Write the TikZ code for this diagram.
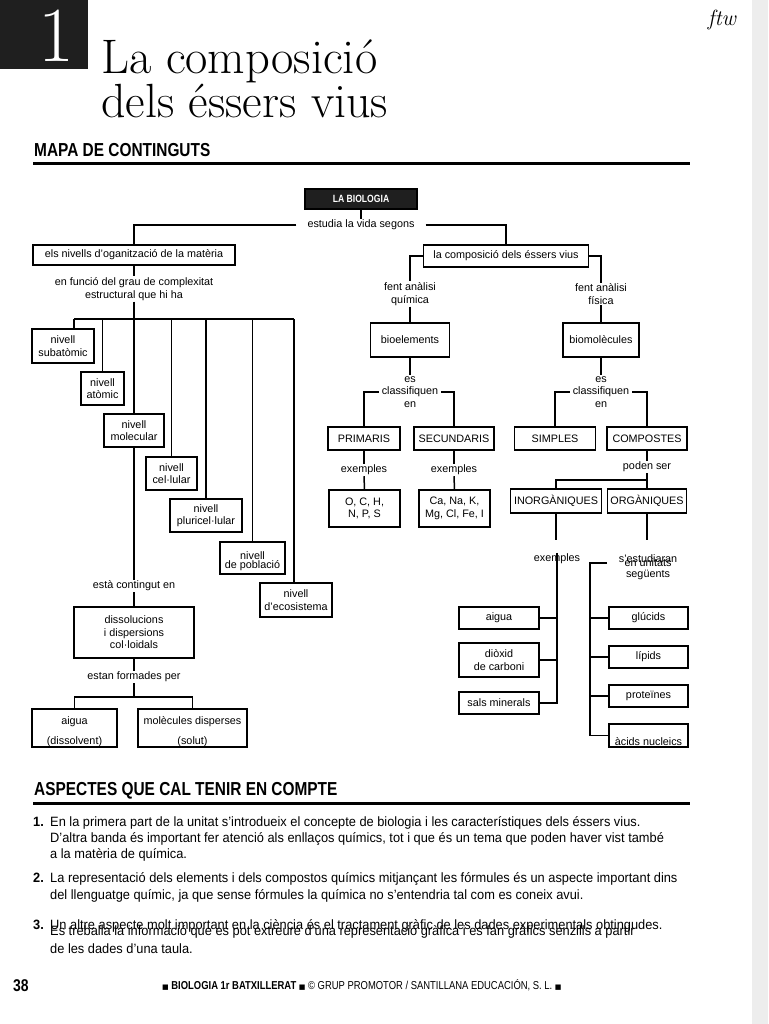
\documentclass[tikz,border=0pt]{standalone}
\usepackage{fontspec}
\newfontfamily\mapsans{Liberation Sans}
\newfontfamily\condsans[FakeStretch=0.82]{Liberation Sans}
\newfontfamily\bodysans[FakeStretch=0.95]{Liberation Sans}
\newfontfamily\symsans{DejaVu Sans}
\newcommand{\mapfont}{\mapsans\fontsize{10.8}{12.5}\selectfont}
\newcommand{\headfont}{\condsans\bfseries\fontsize{18.8}{20}\selectfont}
\newcommand{\bodyfont}{\bodysans\fontsize{13.5}{16}\selectfont}
\newcommand{\sqmark}{{\symsans\fontsize{7}{7}\selectfont ■}}

\tikzset{
  box/.style={draw, line width=1.5pt, fill=white, font=\mapfont, align=center, inner sep=1pt},
  lbl/.style={font=\mapfont, align=center, inner sep=1pt},
  link/.style={line width=1.5pt},
  para/.style={font=\bodyfont, anchor=west, inner sep=0pt, text height=9pt, text depth=3pt},
  num/.style={para, font=\bodyfont\bfseries},
}

\begin{document}
\begin{tikzpicture}[x=1pt, y=-1pt]
    \useasboundingbox (0,0) rectangle (768,1024);
    \fill[white] (0,0) rectangle (768,1024);
    \fill[black!7] (752,0) rectangle (768,1024);

    % capcalera
    \fill[black!88] (0,0) rectangle (88,69);
    \node[white, inner sep=0, anchor=base, font=\fontsize{78}{78}\selectfont] (chap) at (56,62) {1};
    \node[inner sep=0, anchor=base west, font=\fontsize{48.5}{48}\selectfont] (title1) at (101,74) {La composició};
    \node[inner sep=0, anchor=base west, font=\fontsize{48}{48}\selectfont] (title2) at (101,118) {dels éssers vius};
    \node[inner sep=0, anchor=base, font=\itshape\fontsize{22}{22}\selectfont] (mark) at (722,26) {ftw};

    \node[inner sep=0, anchor=base west, font=\headfont] (mapa) at (34,157) {MAPA DE CONTINGUTS};
    \draw[line width=3pt] (33,164) -- (690,164);

    % arrel
    \node[box, fill=black!88, text=white, font=\condsans\bfseries\fontsize{10.5}{12}\selectfont,
          minimum width=112, minimum height=20] (labio) at (361,199) {LA BIOLOGIA};
    \node[lbl, inner xsep=11pt] (estudia) at (361,225) {estudia la vida segons};
    \draw[link] (labio.south) -- (estudia.north);

    % branca esquerra: nivells
    \node[box, minimum width=202, minimum height=20] (nivells) at (134,255) {els nivells d’oganització de la matèria};
    \draw[link] (estudia.west) -| (nivells.north);
    \node[lbl] (enfuncio) at (134,289) {en funció del grau de complexitat\\estructural que hi ha};
    \draw[link] (nivells.south) -- (enfuncio.north);

    \node[box, minimum width=62, minimum height=34] (subat) at (63,346) {nivell\\subatòmic};
    \node[box, minimum width=43, minimum height=33] (atom) at (102.5,388.5) {nivell\\atòmic};
    \node[box, minimum width=60, minimum height=33] (molec) at (134,430.5) {nivell\\molecular};
    \node[box, minimum width=51, minimum height=33] (cell) at (171.5,473.5) {nivell\\cel·lular};
    \node[box, minimum width=72, minimum height=33] (pluri) at (206,515.5) {nivell\\pluricel·lular};
    \node[box, minimum width=65, minimum height=32] (pobl) at (252.5,558) {};
    \node[lbl] (poblA) at (252.5,556) {nivell};
    \node[lbl] (poblB) at (252.5,566) {de població};
    \node[box, minimum width=72, minimum height=34] (ecos) at (296,600) {nivell\\d’ecosistema};

    \coordinate (barL) at (74,319);
    \coordinate (barR) at (294,319);
    \draw[link] (enfuncio.south) -- (enfuncio.south |- barL);
    \draw[link] (barL) -- (barR);
    \draw[link] (barL) -- (barL |- subat.north);
    \draw[link] (barR) -- (barR |- ecos.north);
    \foreach \n in {atom,molec,cell,pluri,pobl}
        \draw[link] (\n.north |- barL) -- (\n.north);

    \node[lbl] (conte) at (134,586) {està contingut en};
    \draw[link] (molec.south) -- (conte.north);
    \node[box, minimum width=120, minimum height=51] (dissol) at (134,632.5) {dissolucions\\i dispersions\\col·loidals};
    \draw[link] (conte.south) -- (dissol.north);
    \node[lbl] (formades) at (134,677) {estan formades per};
    \draw[link] (dissol.south) -- (formades.north);

    \node[box, minimum width=85, minimum height=38] (aiguaD) at (74.5,728) {};
    \node[lbl] (aiguaA) at (74.5,722) {aigua};
    \node[lbl] (aiguaB) at (74.5,742) {(dissolvent)};
    \node[box, minimum width=109, minimum height=38] (molD) at (192.5,728) {};
    \node[lbl] (molA) at (192.5,722) {molècules disperses};
    \node[lbl] (molB) at (192.5,742) {(solut)};
    \coordinate (fork) at (134,697);
    \draw[link] (formades.south) -- (fork);
    \draw[link] (aiguaD.north) |- (fork) -| (molD.north);

    % branca dreta: composicio
    \node[box, minimum width=165, minimum height=22] (compo) at (506,256) {la composició dels éssers vius};
    \draw[link] (estudia.east) -| (compo.north);
    \node[lbl] (quim) at (410,294) {fent anàlisi\\química};
    \node[lbl] (fis) at (601,294) {fent anàlisi\\física};
    \draw[link] (compo.west) -| (quim.north);
    \draw[link] (compo.east) -| (fis.north);

    \node[box, minimum width=79, minimum height=34] (bioel) at (410,340) {bioelements};
    \node[box, minimum width=76, minimum height=34] (biomol) at (601,340) {biomolècules};
    \draw[link] (quim.south) -- (bioel.north);
    \draw[link] (fis.south) -- (biomol.north);

    \node[lbl, inner xsep=3pt] (classA) at (410,392) {es\\classifiquen\\en};
    \node[lbl, inner xsep=3pt] (classB) at (601,392) {es\\classifiquen\\en};
    \draw[link] (bioel.south) -- (classA.north);
    \draw[link] (biomol.south) -- (classB.north);

    \node[box, minimum width=72, minimum height=23] (prim) at (364,438.5) {PRIMARIS};
    \node[box, minimum width=80, minimum height=23] (secu) at (454,438.5) {SECUNDARIS};
    \node[box, minimum width=81, minimum height=23] (simp) at (555,438.5) {SIMPLES};
    \node[box, minimum width=80, minimum height=23] (comp) at (647,438.5) {COMPOSTES};
    \draw[link] (prim.north) |- (classA.west);
    \draw[link] (secu.north) |- (classA.east);
    \draw[link] (simp.north) |- (classB.west);
    \draw[link] (comp.north) |- (classB.east);

    \node[lbl] (exA) at (364,470) {exemples};
    \node[lbl] (exB) at (454,470) {exemples};
    \draw[link] (prim.south) -- (exA.north);
    \draw[link] (secu.south) -- (exB.north);
    \node[box, minimum width=71, minimum height=37] (ochn) at (364.5,508.5) {O, C, H,\\N, P, S};
    \node[box, minimum width=71, minimum height=37] (cana) at (454.5,508.5) {Ca, Na, K,\\Mg, Cl, Fe, I};
    \draw[link] (exA.south) -- (ochn.north);
    \draw[link] (exB.south) -- (cana.north);

    \node[lbl] (poden) at (647,467) {poden ser};
    \draw[link] (comp.south) -- (poden.north);
    \node[box, minimum width=91, minimum height=24] (inorg) at (556,501) {INORGÀNIQUES};
    \node[box, minimum width=79, minimum height=24] (org) at (647,501) {ORGÀNIQUES};
    \coordinate (fork2) at (647,480);
    \draw[link] (poden.south) -- (org.north);
    \draw[link] (inorg.north) |- (fork2);

    % exemples inorganiques
    \coordinate (inorgEnd) at (556,540);
    \coordinate (orgEnd) at (647,540);
    \draw[link] (inorg.south) -- (inorgEnd);
    \draw[link] (org.south) -- (orgEnd);
    \node[lbl] (exC) at (557,559) {exemples};
    \node[box, minimum width=80, minimum height=22] (aiguaI) at (499,618) {aigua};
    \node[box, minimum width=80, minimum height=34] (dioxid) at (499,660) {diòxid\\de carboni};
    \node[box, minimum width=80, minimum height=22] (sals) at (499,703) {sals minerals};
    \draw[link] (exC.north) |- (sals.east);
    \foreach \b in {aiguaI,dioxid}
        \draw[link] (\b.east) -- (\b.east -| exC.north);

    % unitats seguents
    \node[lbl] (estud) at (648,559) {s’estudiaran};
    \node[lbl] (unit) at (648,563) {en unitats};
    \node[lbl] (segu) at (648,575) {següents};
    \node[box, minimum width=79, minimum height=22] (gluc) at (648.5,618) {glúcids};
    \node[box, minimum width=79, minimum height=22] (lip) at (648.5,657) {lípids};
    \node[box, minimum width=79, minimum height=22] (prot) at (648.5,696) {proteïnes};
    \node[box, minimum width=79, minimum height=23] (acids) at (648.5,735.5) {};
    \node[lbl] (acidsT) at (648.5,742) {àcids nucleics};
    \coordinate (brk) at (590,563);
    \draw[link] (607,563) -- (brk) |- (acids.west);
    \foreach \b in {gluc,lip,prot}
        \draw[link] (\b.west -| brk) -- (\b.west);

    % aspectes
    \node[inner sep=0, anchor=base west, font=\headfont] (aspect) at (34,795) {ASPECTES QUE CAL TENIR EN COMPTE};
    \draw[line width=3pt] (33,803) -- (690,803);

    \node[num] (n1) at (33,823) {1.};
    \node[para] (p1a) at (50,823) {En la primera part de la unitat s’introdueix el concepte de biologia i les característiques dels éssers vius.};
    \node[para] (p1b) at (50,839) {D’altra banda és important fer atenció als enllaços químics, tot i que és un tema que poden haver vist també};
    \node[para] (p1c) at (50,855) {a la matèria de química.};
    \node[num] (n2) at (33,879) {2.};
    \node[para] (p2a) at (50,879) {La representació dels elements i dels compostos químics mitjançant les fórmules és un aspecte important dins};
    \node[para] (p2b) at (50,896) {del llenguatge químic, ja que sense fórmules la química no s’entendria tal com es coneix avui.};
    \node[num] (n3) at (33,926) {3.};
    \node[para] (p3a) at (50,926) {Un altre aspecte molt important en la ciència és el tractament gràfic de les dades experimentals obtingudes.};
    \node[para] (p3b) at (50,932) {Es treballa la informació que es pot extreure d’una representació gràfica i es fan gràfics senzills a partir};
    \node[para] (p3c) at (50,950) {de les dades d’una taula.};

    % peu
    \node[inner sep=0, anchor=base west, font=\condsans\bfseries\fontsize{17}{17}\selectfont] (page) at (13,991) {38};
    \node[inner sep=0, anchor=base west, font=\condsans\fontsize{11.5}{11.5}\selectfont] (foot) at (162,989)
        {\sqmark\ \textbf{BIOLOGIA 1r BATXILLERAT} \sqmark\ © GRUP PROMOTOR / SANTILLANA EDUCACIÓN, S. L. \sqmark};
\end{tikzpicture}
\end{document}
